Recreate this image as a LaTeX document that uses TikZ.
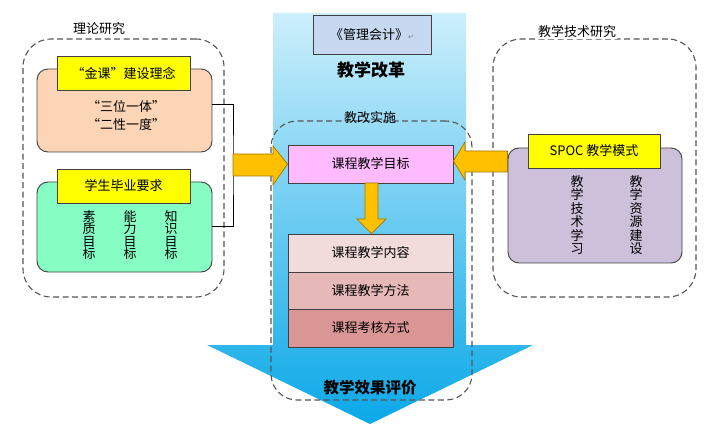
\documentclass[tikz,border=0pt]{standalone}
\usepackage{fontspec}
\newfontfamily\cjk{Noto Sans CJK SC}
\newfontfamily\dejavu{DejaVu Sans}
\definecolor{orangeA}{HTML}{FFC000}
\definecolor{orangeB}{HTML}{A07800}
\definecolor{peachF}{HTML}{FBD5B5}
\definecolor{greenF}{HTML}{86FDC2}
\definecolor{purpleF}{HTML}{CCC0DA}
\definecolor{yellowF}{HTML}{FFFF00}
\definecolor{pinkF}{HTML}{FFBBFF}
\definecolor{c1F}{HTML}{F2DCDB}
\definecolor{c2F}{HTML}{E6B9B8}
\definecolor{c3F}{HTML}{D99694}
\definecolor{mgmtF}{HTML}{C6D9F1}
\definecolor{blueTop}{HTML}{CDEFFB}
\definecolor{blueBot}{HTML}{0AA8E8}
\definecolor{dashC}{HTML}{555555}
\definecolor{edgeC}{HTML}{404040}
\tikzset{
  txt/.style={font=\cjk\fontsize{13}{15}\selectfont, text=black},
  dashbox/.style={draw=dashC, line width=1.1pt, dash pattern=on 6pt off 3.5pt, rounded corners=28pt, fill=none},
  roundbox/.style={draw=edgeC, line width=0.9pt, rounded corners=11pt, inner sep=0pt},
  flatbox/.style={draw=edgeC, line width=0.9pt, inner sep=0pt, txt},
  ylabel/.style={flatbox, fill=yellowF},
  vert/.style={font=\cjk\fontsize{13}{12.6}\selectfont, align=center, inner sep=0pt},
  vertb/.style={font=\cjk\fontsize{13}{13.4}\selectfont, align=center, inner sep=0pt},
  orangearrow/.style={fill=orangeA, draw=orangeB, line width=0.7pt, line join=miter},
}
\begin{document}
\begin{tikzpicture}[x=1pt,y=-1pt]
\useasboundingbox (0,0) rectangle (725,430);
% big blue arrow
\path[top color=blueTop, bottom color=blueBot]
  (273,13) -- (466,13) -- (466,345) -- (533,345) -- (370,424) -- (207,345) -- (273,345) -- cycle;

% dashed frames
\node[dashbox, minimum width=201pt, minimum height=258pt] (leftframe) at (123.5,168) {};
\node[dashbox, minimum width=203pt, minimum height=258pt] (rightframe) at (594.5,168) {};
\node[dashbox, minimum width=201pt, minimum height=279pt, rounded corners=26pt] (midframe) at (371.5,260.5) {};

\node[txt] (lefttitle) at (99,29) {理论研究};
\node[txt, fill=white, inner sep=1pt] (righttitle) at (577,32) {教学技术研究};
\node[txt] (midtitle) at (370,118) {教改实施};

% top title
\node[flatbox, fill=mgmtF, minimum width=118pt, minimum height=39pt] (mgmt) at (372,34.5)
  {《管理会计》{\dejavu\fontsize{7}{8}\selectfont\color{gray}↵}};
\node[font=\cjk\bfseries\fontsize{17}{20}\selectfont] (reform) at (371,70) {教学改革};
\node[font=\cjk\bfseries\fontsize{15.5}{18}\selectfont] (effect) at (370,388) {教学效果评价};

% left boxes
\node[roundbox, fill=peachF, minimum width=175pt, minimum height=83pt] (peach) at (124.5,110.5) {};
\node[ylabel, minimum width=133pt, minimum height=34pt] (gold) at (123.5,73) {“金课”建设理念};
\node[txt] (sanwei) at (126,107) {“三位一体”};
\node[txt] (erxing) at (126,125) {“二性一度”};

\node[roundbox, fill=greenF, minimum width=175pt, minimum height=90pt] (green) at (124.5,227) {};
\node[ylabel, minimum width=133pt, minimum height=34pt] (grad) at (123.5,186) {学生毕业要求};
\node[vert] (suzhi) at (89,235) {素\\质\\目\\标};
\node[vert] (nengli) at (130,235) {能\\力\\目\\标};
\node[vert] (zhishi) at (171,235) {知\\识\\目\\标};

% right boxes
\node[roundbox, fill=purpleF, minimum width=174pt, minimum height=115pt] (purple) at (595,205.5) {};
\node[ylabel, minimum width=132pt, minimum height=34pt] (spoc) at (594,151) {SPOC 教学模式};
\node[vertb] (jishu) at (577,215) {教\\学\\技\\术\\学\\习};
\node[vertb] (ziyuan) at (636,215) {教\\学\\资\\源\\建\\设};

% centre boxes
\node[flatbox, fill=pinkF, minimum width=165pt, minimum height=38pt] (goal) at (370.5,164) {课程教学目标};
\node[flatbox, fill=c1F, minimum width=165pt, minimum height=38pt] (content) at (370.5,253) {课程教学内容};
\node[flatbox, fill=c2F, minimum width=165pt, minimum height=37pt] (method) at (370.5,290.5) {课程教学方法};
\node[flatbox, fill=c3F, minimum width=165pt, minimum height=38pt] (assess) at (370.5,328) {课程考核方式};

% bracket joining the two left boxes
\coordinate (bk) at (233,165);
\draw[line width=0.8pt, black] (peach.east |- 0,104) -| (bk) |- (green.east |- 0,226);

% orange arrows
\draw[orangearrow] (bk |- 0,154) -- (273,154) -- (273,146) -- (goal.west) -- (273,185) -- (273,176) -- (bk |- 0,176) -- cycle;
\draw[orangearrow] (purple.west |- 0,151) -- (465,151) -- (465,142) -- (goal.east |- 0,161) -- (465,180) -- (465,172) -- (purple.west |- 0,172) -- cycle;
\draw[orangearrow] (365,183) -- (365,219) -- (357,219) -- (content.north -| 371.5,0) -- (386,219) -- (378,219) -- (378,183) -- cycle;
\end{tikzpicture}
\end{document}
